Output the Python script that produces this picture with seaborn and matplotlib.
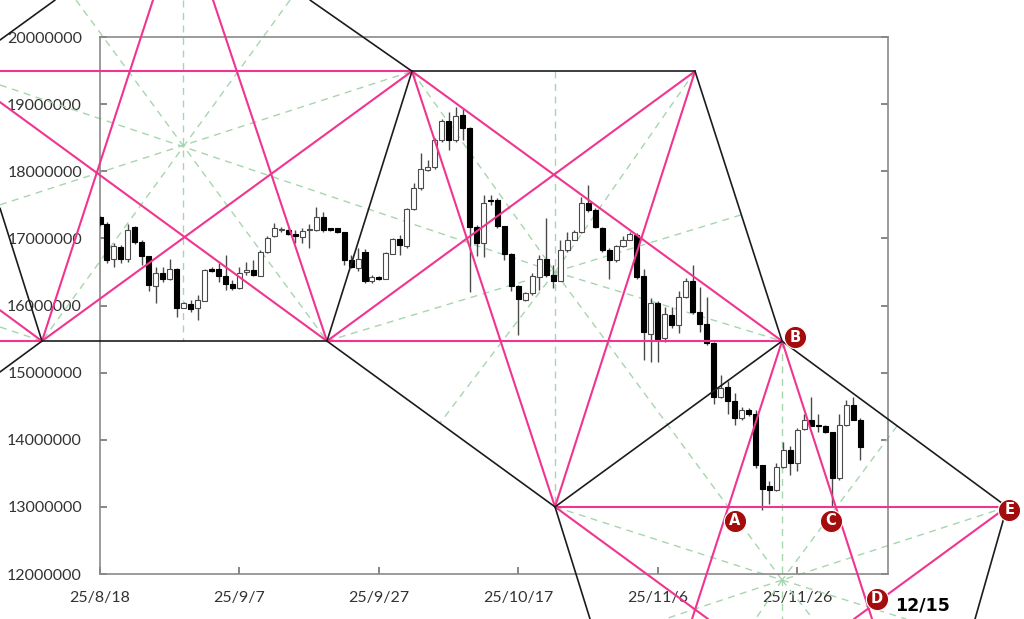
import numpy as np
import pandas as pd
import seaborn as sns
import matplotlib
matplotlib.use('Agg')
import matplotlib.pyplot as plt

# daily candles (BTC/JPY), prices in million yen, first candle = 2025-08-18
start_date = '2025-08-18'
opens = [17.32, 17.22, 16.69, 16.87, 16.70, 17.17, 16.95, 16.73, 16.29, 16.49,
         16.39, 16.55, 15.97, 16.02, 15.96, 16.07, 16.54, 16.54, 16.44, 16.32,
         16.26, 16.50, 16.53, 16.44, 16.80, 17.03, 17.12, 17.12, 17.06, 17.02,
         17.12, 17.12, 17.32, 17.15, 17.15, 17.09, 16.68, 16.56, 16.80, 16.37,
         16.42, 16.40, 16.77, 16.99, 16.89, 17.44, 17.75, 18.02, 18.07, 18.47,
         18.75, 18.47, 18.84, 18.64, 17.17, 16.93, 17.57, 17.57, 17.18, 16.77,
         16.29, 16.08, 16.18, 16.43, 16.69, 16.45, 16.36, 16.82, 16.98, 17.09,
         17.52, 17.43, 17.15, 16.83, 16.68, 16.88, 16.98, 17.05, 16.44, 15.58,
         16.03, 15.51, 15.86, 15.71, 16.13, 16.36, 15.91, 15.73, 15.44, 14.64,
         14.79, 14.58, 14.32, 14.45, 14.38, 13.63, 13.31, 13.25, 13.60, 13.85,
         13.65, 14.16, 14.29, 14.22, 14.20, 14.11, 13.43, 14.22, 14.52, 14.30]
highs = [17.33, 17.24, 16.93, 16.90, 17.21, 17.18, 16.97, 16.74, 16.58, 16.58,
         16.70, 16.56, 16.05, 16.08, 16.16, 16.54, 16.58, 16.63, 16.75, 16.38,
         16.58, 16.65, 16.68, 16.83, 17.03, 17.23, 17.17, 17.14, 17.12, 17.15,
         17.22, 17.47, 17.40, 17.16, 17.16, 17.10, 16.75, 16.85, 16.84, 16.45,
         16.44, 16.80, 17.01, 17.05, 17.45, 17.82, 18.27, 18.17, 18.49, 18.78,
         18.89, 18.96, 18.93, 18.66, 17.20, 17.65, 17.65, 17.60, 17.19, 16.78,
         16.30, 16.20, 16.48, 16.75, 17.31, 16.60, 16.98, 17.10, 17.13, 17.62,
         17.80, 17.45, 17.17, 16.85, 16.90, 17.03, 17.10, 17.08, 16.55, 16.11,
         16.06, 15.98, 15.98, 16.21, 16.41, 16.60, 16.28, 16.13, 15.46, 14.97,
         14.87, 14.69, 14.49, 14.47, 14.44, 13.63, 13.38, 13.65, 13.97, 13.90,
         14.17, 14.39, 14.64, 14.39, 14.22, 14.12, 14.39, 14.59, 14.64, 14.32]
lows = [17.19, 16.63, 16.58, 16.63, 16.65, 16.92, 16.60, 16.22, 16.03, 16.35,
        16.38, 15.83, 15.96, 15.91, 15.79, 16.06, 16.50, 16.35, 16.23, 16.23,
        16.24, 16.45, 16.44, 16.44, 16.78, 17.02, 17.10, 17.05, 16.93, 16.93,
        16.85, 17.11, 17.10, 17.11, 17.08, 16.60, 16.56, 16.52, 16.33, 16.33,
        16.38, 16.39, 16.76, 16.75, 16.85, 17.42, 17.72, 18.00, 18.04, 18.44,
        18.32, 18.44, 18.47, 16.20, 16.73, 16.72, 17.50, 17.15, 16.68, 16.21,
        15.56, 16.06, 16.16, 16.23, 16.43, 16.26, 16.36, 16.80, 16.97, 17.08,
        17.40, 17.15, 16.80, 16.39, 16.65, 16.87, 16.97, 16.40, 15.19, 15.16,
        15.16, 15.45, 15.66, 15.59, 16.11, 15.88, 15.61, 15.41, 14.54, 14.62,
        14.39, 14.22, 14.29, 14.35, 13.58, 12.95, 13.05, 13.23, 13.58, 13.48,
        13.53, 14.15, 14.20, 14.12, 14.10, 13.00, 13.40, 14.20, 14.30, 13.70]
closes = [17.21, 16.68, 16.89, 16.69, 17.12, 16.95, 16.73, 16.31, 16.48, 16.40,
          16.55, 15.97, 16.03, 15.95, 16.08, 16.53, 16.52, 16.44, 16.32, 16.26,
          16.49, 16.53, 16.45, 16.80, 17.00, 17.15, 17.14, 17.07, 17.03, 17.11,
          17.13, 17.32, 17.12, 17.12, 17.09, 16.68, 16.58, 16.70, 16.36, 16.43,
          16.40, 16.78, 16.99, 16.90, 17.44, 17.75, 18.04, 18.07, 18.47, 18.75,
          18.47, 18.83, 18.64, 17.17, 16.93, 17.52, 17.55, 17.18, 16.77, 16.29,
          16.09, 16.18, 16.44, 16.69, 16.45, 16.36, 16.82, 16.98, 17.09, 17.52,
          17.42, 17.17, 16.82, 16.68, 16.88, 16.98, 17.07, 16.43, 15.61, 16.03,
          15.50, 15.88, 15.71, 16.13, 16.36, 15.91, 15.73, 15.44, 14.64, 14.77,
          14.57, 14.32, 14.45, 14.38, 13.63, 13.26, 13.25, 13.60, 13.85, 13.65,
          14.15, 14.29, 14.21, 14.21, 14.11, 13.43, 14.22, 14.52, 14.30, 13.89]

tick_days = [0, 20, 40, 60, 80, 100]
y_ticks = [12, 13, 14, 15, 16, 17, 18, 19, 20]

# pivots of the triangle drawing: (days from start, price in million yen)
P1 = (-8.32, 15.47)
P2 = (32.55, 15.47)
P3 = (44.74, 19.49)
P4 = (85.33, 19.49)
B = (97.81, 15.47)
V = (65.25, 13.00)
E = (130.07, 13.00)
S1 = (11.90, 18.36)
S2 = (65.25, 16.50)
S3 = (97.81, 11.91)

black_lines = [
    ((-14.34, 19.955), (-6.45, 20.55)),
    ((-14.34, 17.45), P1), ((-14.34, 15.01), P1),
    (P1, P2), (P2, P3), ((30.12, 20.55), P3), (P3, P4), (P4, B),
    (P2, V), (V, B), (B, E),
    (V, (70.27, 11.33)), (E, (125.48, 11.33)),
]
pink_lines = [
    ((-14.34, 19.49), P3), ((-14.34, 19.03), P2), (P1, P3),
    (P1, (7.60, 20.55)), ((16.21, 20.55), P2),
    ((-14.34, 15.47), P1), ((-14.34, 15.93), P1),
    (P2, B), (P3, V), (P3, B), (P2, P4), (V, P4), (V, E),
    (V, (87.19, 11.33)), (B, (84.90, 11.33)), (B, (110.71, 11.33)),
    (E, (108.13, 11.33)),
]
green_lines = [
    ((11.90, 20.55), (11.90, 15.47)), ((-3.44, 20.55), P2), ((27.25, 20.55), P1),
    ((-14.34, 19.285), S2), ((-14.34, 17.50), P3), ((-14.34, 15.68), P1),
    ((65.25, 19.49), V), (S2, B), (P2, S2), (S2, (91.93, 17.35)),
    (P3, S2), (S2, S3), (P4, S2), (S2, (48.76, 14.25)),
    (B, (97.81, 11.33)), (V, S3), (S3, (115.6, 11.33)), (E, S3),
    (S3, (81.03, 11.33)), (S3, (102.25, 11.33)), ((114.30, 14.205), S3),
    (S3, (94.0, 11.33)),
]
marker_labels = ['A', 'B', 'C', 'D', 'E']
marker_pos = [(91.07, 12.79), (99.67, 15.53), (104.83, 12.79), (111.43, 11.63), (130.4, 12.96)]

sns.set_theme(style='ticks')
plt.rcParams['font.family'] = ['Lato', 'DejaVu Sans']

df = pd.DataFrame({'open': opens, 'high': highs, 'low': lows, 'close': closes})
df[['open', 'high', 'low', 'close']] *= 1e6
df['day'] = np.arange(len(df))
df['up'] = df['close'] >= df['open']

fig = plt.figure(figsize=(10.24, 6.19), dpi=100)
ax = fig.add_axes([100 / 1024, 45 / 619, 788 / 1024, 537 / 619])

# wicks
ax.vlines(df['day'], df['low'], df['high'], color='#4a4a4a', lw=1.0, zorder=3)
# bodies
body_lo = df[['open', 'close']].min(axis=1)
body_h = (df['close'] - df['open']).abs().clip(lower=15000)
ax.bar(df['day'], body_h, bottom=body_lo, width=0.72,
       color=np.where(df['up'], 'white', '#000000'),
       edgecolor=np.where(df['up'], '#4a4a4a', '#000000'), lw=0.8, zorder=3)

def draw(segs, **kw):
    for a, b in segs:
        ax.plot([a[0], b[0]], [a[1] * 1e6, b[1] * 1e6], clip_on=False, **kw)

draw(green_lines, color='#a6d6ae', lw=1.0, ls=(0, (5, 4)), zorder=2)
draw(pink_lines, color='#f0348f', lw=1.5, zorder=4)
draw(black_lines, color='#1c1c1c', lw=1.2, zorder=4)

for lab, (d, p) in zip(marker_labels, marker_pos):
    ax.plot(d, p * 1e6, 'o', ms=16, color='#a30d0d', mec='white', mew=0.8,
            clip_on=False, zorder=6)
    ax.text(d, p * 1e6, lab, color='white', fontsize=10.5, fontweight='bold',
            family='DejaVu Sans', ha='center', va='center', clip_on=False, zorder=7)

fig.text(895 / 1024, 1 - 605 / 619, '12/15', fontsize=12.5, fontweight='bold',
         family='DejaVu Sans', color='black', ha='left', va='center')

ax.set_xlim(0, 113)
ax.set_ylim(12e6, 20e6)
dates = pd.Timestamp(start_date) + pd.to_timedelta(tick_days, unit='D')
ax.set_xticks(tick_days)
ax.set_xticklabels([f'{d.year % 100}/{d.month}/{d.day}' for d in dates])
ax.set_yticks([v * 1e6 for v in y_ticks])
ax.set_yticklabels([str(v * 1000000) for v in y_ticks])
ax.tick_params(axis='y', direction='in', length=5, left=True, right=True,
               color='#777777', labelcolor='#333333', labelsize=11.5, pad=13)
ax.tick_params(axis='x', direction='in', length=5, bottom=True, top=False,
               color='#777777', labelcolor='#333333', labelsize=11.5, pad=12)
for s in ax.spines.values():
    s.set_visible(True)
    s.set_color('#8a8a8a')
    s.set_linewidth(1.2)
ax.grid(False)

fig.savefig('out.png', dpi=100)
